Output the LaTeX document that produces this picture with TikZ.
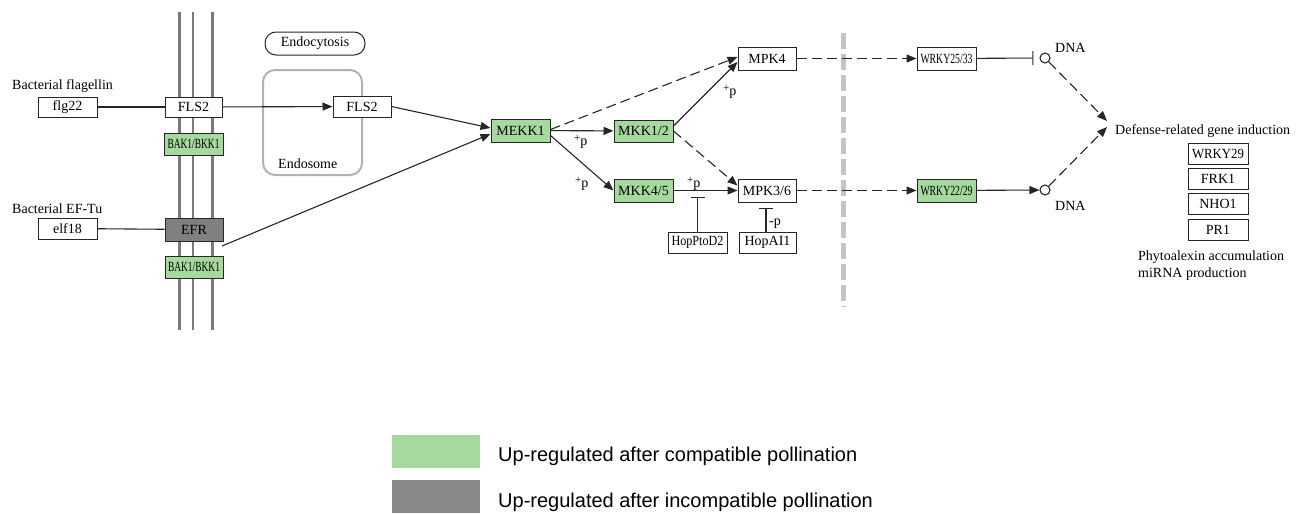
\documentclass[tikz,border=0pt]{standalone}
\usepackage{fontspec}
\setmainfont{Liberation Serif}
\newfontfamily\legfont{Liberation Sans}
\usetikzlibrary{arrows.meta}
\definecolor{kgreen}{HTML}{A5D99E}
\definecolor{leggray}{HTML}{888888}
\definecolor{efrgray}{HTML}{808080}
\definecolor{memgray}{HTML}{7A7A7A}
\definecolor{sepgray}{HTML}{C4C4C4}
\newsavebox\kfitbox
\newcommand\kfit[1]{\sbox\kfitbox{#1}\ifdim\wd\kfitbox>52pt\relax\resizebox{52pt}{\height}{#1}\else\usebox\kfitbox\fi}
\newcommand\plusp{{\fontsize{11}{11}\selectfont\raisebox{3.5pt}{+}}p}
\begin{document}
\begin{tikzpicture}[x=1pt,y=-1pt,font=\fontsize{14}{16}\selectfont,
  kbox/.style={draw=black!85,line width=1pt,fill=white,minimum width=58pt,minimum height=22pt,inner sep=0pt},
  upbox/.style={kbox,fill=kgreen},
  ln/.style={line width=1.1pt,draw=black!85},
  arr/.style={ln,-{Triangle[length=10pt,width=8pt]}},
  darr/.style={arr,dash pattern=on 10pt off 5pt},
  inh/.style={ln,-{Bar[width=14pt,line width=1.1pt]}},
  lbl/.style={inner sep=0pt,anchor=base west},
  dnac/.style={circle,ln,draw,fill=white,minimum size=10pt,inner sep=0pt}
]
\useasboundingbox (0,0) rectangle (1314,514);
% membrane
\draw[memgray,line width=3pt] (179,12) -- (179,330);
\draw[memgray,line width=1.5pt] (193,12) -- (193,330);
\draw[memgray,line width=3pt] (212,12) -- (212,330);
% separator
\draw[sepgray,line width=5pt,dash pattern=on 16pt off 5pt] (843,33) -- (843,307);
% endosome
\draw[gray!60,line width=2pt,rounded corners=12pt] (263,70) rectangle (362,175);
\node[lbl] (endosome) at (278,168) {Endosome};
\node[draw=black!85,line width=1pt,rounded corners=11pt,minimum width=100pt,minimum height=23pt,inner sep=0pt] (endocyt) at (315,43.5) {Endocytosis};
% labels
\node[lbl] (bflag) at (12,89) {Bacterial flagellin};
\node[lbl] (beftu) at (12,213) {Bacterial EF-Tu};
% boxes
\node[kbox,minimum width=59pt,minimum height=20pt] (flg22) at (67.5,107) {flg22};
\node[kbox,minimum width=57pt,minimum height=20pt] (fls2m) at (193.5,107) {FLS2};
\node[upbox,minimum width=59pt] (bak1a) at (193.5,144) {\kfit{BAK1/BKK1}};
\node[kbox,minimum height=21pt] (fls2e) at (362,106.5) {FLS2};
\node[kbox,minimum width=59pt,minimum height=21pt] (elf18) at (67.5,228.5) {elf18};
\node[kbox,fill=efrgray,minimum height=23pt] (efr) at (194,229.5) {EFR};
\node[upbox] (bak1b) at (194,267) {\kfit{BAK1/BKK1}};
\node[upbox,minimum width=59pt,minimum height=23pt] (mekk1) at (520.5,130.5) {MEKK1};
\node[upbox,minimum width=59pt] (mkk12) at (643.5,131) {\kfit{MKK1/2}};
\node[upbox,minimum width=59pt,minimum height=23pt] (mkk45) at (643.5,190.5) {\kfit{MKK4/5}};
\node[kbox,minimum height=23pt] (mpk4) at (767,58.5) {MPK4};
\node[kbox,minimum height=23pt] (mpk36) at (767,190.5) {\kfit{MPK3/6}};
\node[kbox,minimum width=59pt,minimum height=21pt] (hoppto) at (697.5,242.5) {\kfit{HopPtoD2}};
\node[kbox,minimum width=57pt,minimum height=21pt] (hopai) at (767.5,242.5) {\kfit{HopAI1}};
\node[kbox,minimum width=59pt,minimum height=23pt] (w2533) at (946.5,58.5) {\kfit{WRKY25/33}};
\node[upbox,minimum width=59pt,minimum height=23pt] (w2229) at (946.5,190.5) {\kfit{WRKY22/29}};
\node[dnac] (dna1) at (1045,58) {};
\node[dnac] (dna2) at (1045,190) {};
\node[lbl] (dnat1) at (1055,52) {DNA};
\node[lbl] (dnat2) at (1055,210) {DNA};
\node[lbl] (defense) at (1115,134) {Defense-related gene induction};
\node[kbox,minimum width=60pt,minimum height=21pt] (wrky29) at (1218,153.5) {\kfit{WRKY29}};
\node[kbox,minimum width=60pt,minimum height=21pt] (frk1) at (1218,178.5) {FRK1};
\node[kbox,minimum width=60pt,minimum height=21pt] (nho1) at (1218,204) {NHO1};
\node[kbox,minimum width=60pt,minimum height=21pt] (pr1) at (1218,230) {PR1};
\node[lbl] (phyto) at (1138,260) {Phytoalexin accumulation};
\node[lbl] (mirna) at (1138,277) {miRNA production};
% connectors
\draw[ln] (flg22) -- (fls2m);
\draw[arr] (fls2m) -- (fls2e);
\draw[ln] (elf18) -- (efr);
\coordinate (efrout) at (222,246);
\draw[arr] (efrout) -- ([yshift=-3.5pt]mekk1.west);
\draw[arr] (fls2e.east) -- ([yshift=2.5pt]mekk1.west);
\draw[arr] (mekk1) -- (mkk12);
\draw[arr] ([yshift=-5pt]mekk1.east) -- (mkk45.west);
\draw[darr] ([yshift=1pt]mekk1.east) -- ([yshift=1.5pt]mpk4.west);
\draw[arr] ([yshift=5pt]mkk12.east) -- ([yshift=-3.5pt]mpk4.west);
\draw[darr] (mkk12.east) -- ([yshift=5pt]mpk36.west);
\draw[arr] (mkk45) -- (mpk36);
\coordinate (bar1) at (697.5,197);
\coordinate (bar2) at (766,208);
\draw[inh] (hoppto.north) -- (bar1);
\draw[inh] ([xshift=-1.5pt]hopai.north) -- (bar2);
\draw[darr] (mpk4) -- (w2533);
\draw[darr] (mpk36) -- (w2229);
\draw[inh,shorten >=6pt] (w2533) -- (dna1);
\draw[arr] (w2229) -- (dna2);
\coordinate (def1) at (1107,121);
\coordinate (def2) at (1107,127);
\draw[darr] (dna1) -- (def1);
\draw[darr] (dna2) -- (def2);
% phosphorylation labels
\node[lbl] (p1) at (574,145) {\plusp};
\node[lbl] (p2) at (575,187) {\plusp};
\node[lbl] (p3) at (723,95) {\plusp};
\node[lbl] (p4) at (687,187) {\plusp};
\node[lbl] (p5) at (769,225) {-p};
% legend
\fill[kgreen] (392,435) rectangle (480,468);
\fill[leggray] (392,480) rectangle (480,513);
\node[lbl,font=\legfont\fontsize{20}{22}\selectfont] (leg1) at (498,461) {Up-regulated after compatible pollination};
\node[lbl,font=\legfont\fontsize{20}{22}\selectfont] (leg2) at (498,507) {Up-regulated after incompatible pollination};
\end{tikzpicture}
\end{document}
